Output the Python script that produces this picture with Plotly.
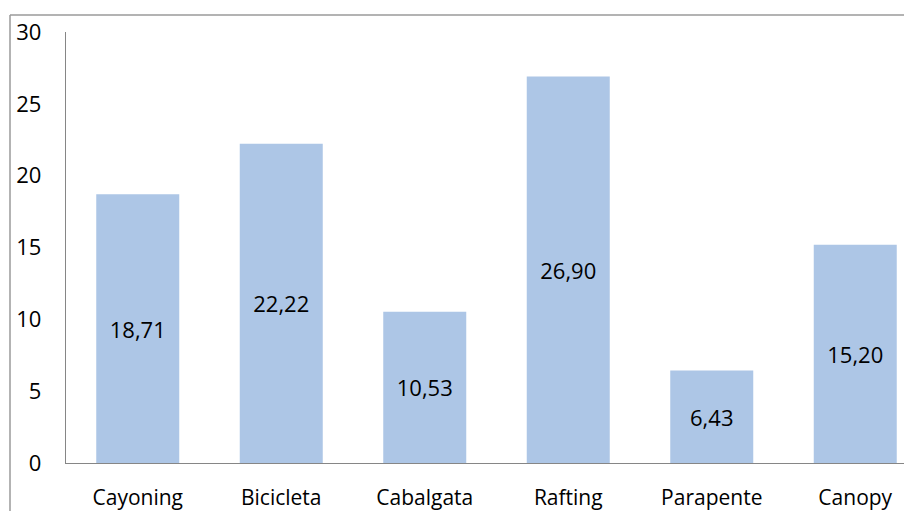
import plotly.graph_objects as go

categories = ["Cayoning", "Bicicleta", "Cabalgata", "Rafting", "Parapente", "Canopy"]
values = [18.71, 22.22, 10.53, 26.90, 6.43, 15.20]
y_ticks = [0, 5, 10, 15, 20, 25, 30]

# page body has an 8px default margin; compensate
OFF = 8
W, H = 912 - OFF, 511 - OFF
L, R, T = 66 - OFF, 0, 32 - OFF
B = H - (463 - OFF)
pw, ph = W - L - R, H - T - B

px_per_cat = 143.5

fig = go.Figure(go.Bar(
    x=categories, y=values,
    marker=dict(color="#ADC6E6", line=dict(width=0)),
    width=83 / px_per_cat,
    texttemplate="%{y:.2f}",
    textposition="inside",
    insidetextanchor="middle",
    textangle=0,
    textfont=dict(family="Open Sans", size=22, color="#000000"),
    hoverinfo="skip",
))

bx = (10 - OFF - L) / pw
by = (H - B - (15 - OFF)) / ph
fig.update_layout(
    width=W, height=H,
    margin=dict(l=L, r=R, t=T, b=B, pad=0, autoexpand=False),
    paper_bgcolor="white", plot_bgcolor="white",
    separators=",.",
    showlegend=False,
    xaxis=dict(
        type="category",
        range=[-0.5, -0.5 + pw / px_per_cat],
        showline=True, linecolor="#868686", linewidth=1.3,
        showgrid=False, ticks="", ticklabelstandoff=16,
        tickfont=dict(family="Open Sans", size=21, color="#000000"),
        automargin=False, fixedrange=True,
    ),
    yaxis=dict(
        range=[0, 30], tickvals=y_ticks,
        showline=True, linecolor="#868686", linewidth=1.3,
        showgrid=False, zeroline=False, ticks="", ticklabelstandoff=19,
        tickfont=dict(family="Open Sans", size=22, color="#000000"),
        automargin=False, fixedrange=True,
    ),
    shapes=[
        dict(type="line", xref="paper", yref="paper",
             x0=bx, x1=1.05, y0=by, y1=by,
             line=dict(color="#9A9A9A", width=1.5)),
        dict(type="line", xref="paper", yref="paper",
             x0=bx, x1=bx, y0=by, y1=-0.2,
             line=dict(color="#9A9A9A", width=1.5)),
    ],
)

fig.write_html("out.html")
